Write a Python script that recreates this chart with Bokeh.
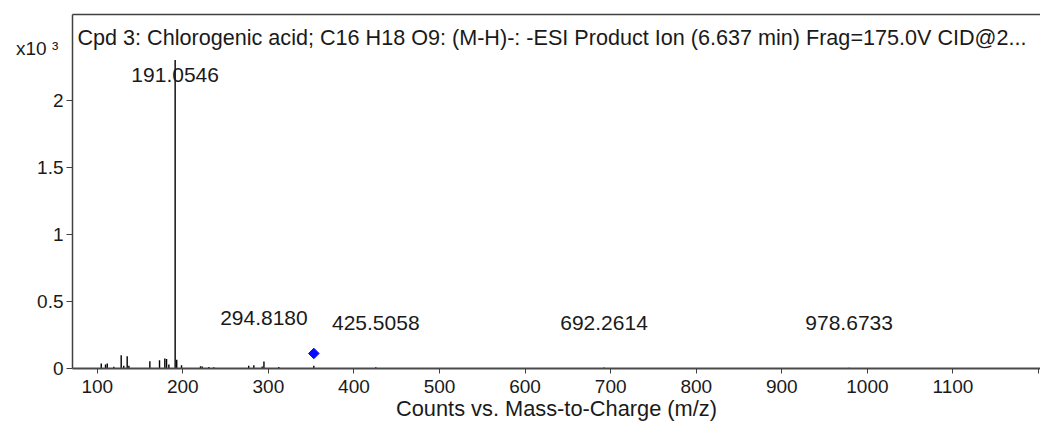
from bokeh.plotting import figure
from bokeh.models import (Range1d, FixedTicker, LinearAxis, Label, LabelSet,
                          ColumnDataSource, NumeralTickFormatter)
from bokeh.embed import file_html
from bokeh.resources import INLINE
from bokeh.core.properties import value

# ---- data (intensities in counts x10^3) ----
peak_mz = [104.7, 109.7, 111.7, 119.4, 128.0, 131.0, 135.0, 137.0,
           161.5, 172.8, 179.0, 181.0, 183.7, 191.0546, 192.9, 198.5,
           220.7, 222.7, 230.4, 236.3, 277.0, 283.0, 292.8, 294.818,
           312.2, 353.09, 425.5058, 692.2614, 978.6733]
peak_int = [0.037, 0.030, 0.037, 0.013, 0.098, 0.020, 0.092, 0.020,
            0.054, 0.062, 0.075, 0.070, 0.030, 2.300, 0.065, 0.025,
            0.017, 0.015, 0.012, 0.010, 0.020, 0.025, 0.015, 0.052,
            0.012, 0.020, 0.010, 0.008, 0.006]

label_mz = [191.0546, 294.8180, 425.5058, 692.2614, 978.6733]
label_text = ["191.0546", "294.8180", "425.5058", "692.2614", "978.6733"]
label_y = [2.19, 0.38, 0.34, 0.34, 0.34]

precursor_mz = [353.0878]
precursor_int = [0.112]

x_ticks = [100, 200, 300, 400, 500, 600, 700, 800, 900, 1000, 1100, 1200]
y_ticks = [0, 0.5, 1, 1.5, 2]
y_exponent_pos = 2.39          # where the "x10 3" multiplier sits on the axis
y_exponent_text = "x10  \u00b3"

title_text = ("Cpd 3: Chlorogenic acid; C16 H18 O9: (M-H)-: -ESI Product Ion "
              "(6.637 min) Frag=175.0V CID@2...")
x_label = "Counts vs. Mass-to-Charge (m/z)"

FONT = "Liberation Sans"
TXT = "#1a1a1a"
AX = "#404040"

p = figure(width=1040, height=428,
           x_range=Range1d(71.1, 1202.3), y_range=Range1d(0, 2.64),
           output_backend="svg", toolbar_location=None,
           min_border_left=72, min_border_right=0,
           min_border_top=14, min_border_bottom=60)
p.outline_line_color = None
p.grid.visible = False
p.background_fill_color = "white"
p.border_fill_color = "white"

# x axis
xa = p.xaxis[0]
xa.ticker = FixedTicker(ticks=x_ticks)
xa.major_label_overrides = {1200: ""}
xa.minor_tick_line_color = None
xa.major_tick_out = 5
xa.major_tick_in = 0
xa.major_label_standoff = 6
xa.axis_line_color = "#4a4a4a"
xa.axis_line_width = 2
xa.major_tick_line_color = AX
xa.major_label_text_font = FONT
xa.major_label_text_font_size = "19px"
xa.major_label_text_color = TXT
xa.axis_label = x_label
xa.axis_label_text_font = FONT
xa.axis_label_text_font_size = "21.8px"
xa.axis_label_text_font_style = "normal"
xa.axis_label_text_color = TXT
xa.axis_label_standoff = 0

# y axis: labels on (invisible) major ticks, tick marks drawn as minor ticks
ya = p.yaxis[0]
ya.ticker = FixedTicker(ticks=y_ticks + [y_exponent_pos], minor_ticks=y_ticks)
ya.formatter = NumeralTickFormatter(format="0.[0]")
ya.major_label_overrides = {y_exponent_pos: y_exponent_text}
ya.major_tick_line_color = None
ya.major_tick_out = 6
ya.major_tick_in = 0
ya.minor_tick_line_color = AX
ya.minor_tick_out = 6
ya.minor_tick_in = 0
ya.major_label_standoff = 3
ya.axis_line_color = AX
ya.axis_line_width = 1.5
ya.major_label_text_font = FONT
ya.major_label_text_font_size = "19px"
ya.major_label_text_color = TXT

# top frame line
top = LinearAxis(ticker=FixedTicker(ticks=[]), major_tick_out=0, major_tick_in=0,
                 minor_tick_out=0, minor_tick_in=0, major_label_text_font_size="0px",
                 axis_line_color=AX, axis_line_width=1.5)
p.add_layout(top, "above")

# peaks
src = ColumnDataSource(dict(mz=peak_mz, inten=peak_int))
p.segment(x0="mz", y0=0, x1="mz", y1="inten", source=src,
          line_color="black", line_width=1.4)

# precursor marker
p.scatter(x=precursor_mz, y=precursor_int, marker="square", size=7.5,
          angle=0.785398, fill_color="#0a0aff", line_color="#0a0aff")

# peak labels
lsrc = ColumnDataSource(dict(x=label_mz, y=label_y, t=label_text))
p.add_layout(LabelSet(x="x", y="y", text="t", source=lsrc,
                      text_align="center", text_baseline="middle",
                      text_font=value(FONT), text_font_size="21px",
                      text_color=TXT))

# title inside frame
p.add_layout(Label(x=5, y=331.5, x_units="screen", y_units="screen",
                   text=title_text, text_baseline="middle", text_align="left",
                   text_font=FONT, text_font_size="21.6px", text_color=TXT))

open("out.html", "w").write(file_html(p, INLINE))
